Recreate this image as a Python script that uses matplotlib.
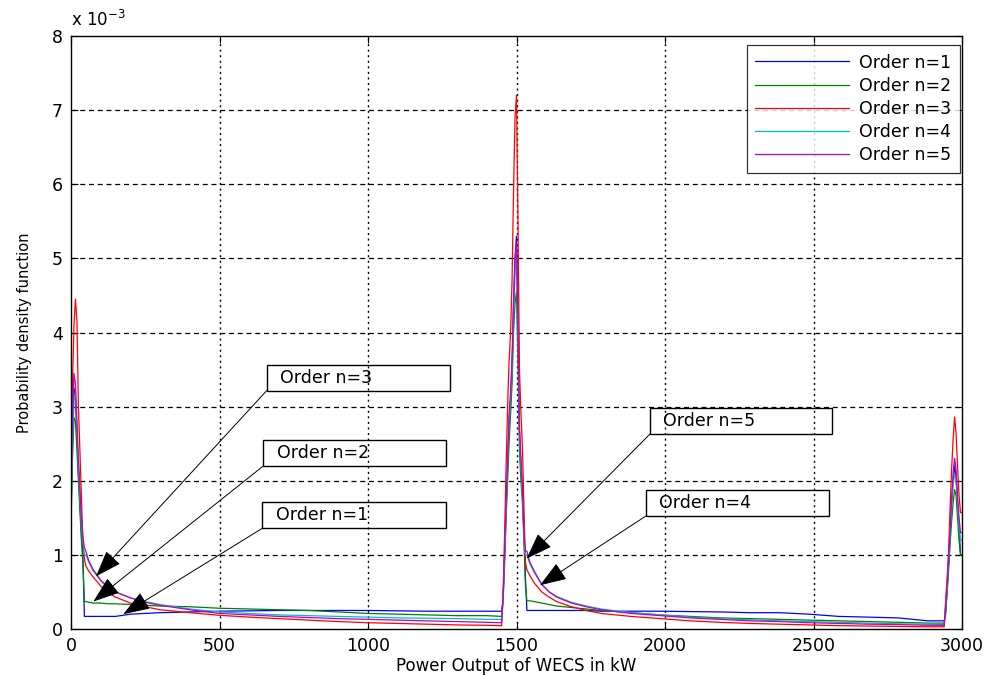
import numpy as np
import matplotlib
matplotlib.use("Agg")
import matplotlib.pyplot as plt
from matplotlib.patches import Rectangle

# ---------------- data (pdf values in units of 1e-3) ----------------
x_kw = [0, 5, 10, 15, 20, 25, 30, 35, 40, 45,
        50, 60, 75, 100, 125, 150, 200, 250, 300, 400, 500, 600, 700, 800, 900, 1000, 1100, 1200, 1300, 1400, 1450,
        1455, 1460, 1465, 1470, 1475, 1480, 1485, 1490, 1495, 1500, 1505, 1510, 1515, 1520, 1525, 1530,
        1535, 1545, 1560, 1585, 1610, 1635, 1685, 1735, 1785, 1885, 1985, 2085, 2185, 2285, 2385, 2485, 2585, 2685, 2785, 2885, 2940,
        2945, 2950, 2955, 2960, 2965, 2970, 2975, 2980, 2985, 2990, 2995, 3000]

pdf_n1 = [1.5, 2.6, 3.25, 3.1, 2.6, 2.1, 1.7, 1.3, 1.0, 0.17,
          0.17, 0.17, 0.17, 0.17, 0.17, 0.17, 0.20, 0.21, 0.22, 0.23, 0.24, 0.245, 0.25, 0.25, 0.25, 0.25, 0.245, 0.24, 0.24, 0.24, 0.24,
          0.4, 1.0, 1.6, 2.2, 2.8, 3.1, 3.6, 4.4, 5.0, 5.3, 4.2, 2.7, 2.2, 1.9, 1.3, 0.7,
          0.25, 0.25, 0.25, 0.25, 0.25, 0.25, 0.25, 0.25, 0.24, 0.24, 0.24, 0.235, 0.23, 0.22, 0.22, 0.20, 0.17, 0.16, 0.15, 0.11, 0.11,
          0.2, 0.55, 0.9, 1.3, 1.7, 2.0, 2.2, 2.05, 1.7, 1.4, 1.0, 1.0]

pdf_n2 = [1.4, 2.3, 2.85, 2.8, 2.4, 2.0, 1.6, 1.2, 0.9, 0.37,
          0.37, 0.36, 0.35, 0.35, 0.34, 0.34, 0.33, 0.32, 0.31, 0.30, 0.28, 0.27, 0.26, 0.25, 0.23, 0.21, 0.20, 0.19, 0.18, 0.18, 0.17,
          0.4, 0.9, 1.5, 2.0, 2.5, 2.9, 3.3, 4.0, 4.4, 4.55, 3.6, 2.4, 2.0, 1.7, 1.2, 0.6,
          0.38, 0.38, 0.37, 0.35, 0.33, 0.31, 0.29, 0.27, 0.25, 0.22, 0.19, 0.17, 0.15, 0.14, 0.13, 0.12, 0.11, 0.10, 0.09, 0.08, 0.08,
          0.25, 0.5, 0.8, 1.15, 1.45, 1.7, 1.88, 1.8, 1.5, 1.2, 1.0, 1.0]

pdf_n3 = [1.6, 3.3, 4.1, 4.45, 4.15, 3.0, 2.4, 1.8, 1.15, 0.95,
          0.85, 0.78, 0.70, 0.58, 0.49, 0.43, 0.35, 0.30, 0.26, 0.22, 0.185, 0.16, 0.14, 0.12, 0.10, 0.085, 0.075, 0.065, 0.055, 0.05, 0.045,
          0.5, 1.3, 2.2, 3.0, 3.6, 4.0, 4.7, 5.9, 6.9, 7.2, 5.5, 3.5, 2.9, 2.45, 1.65, 0.9,
          0.80, 0.72, 0.62, 0.50, 0.43, 0.37, 0.30, 0.25, 0.21, 0.17, 0.14, 0.11, 0.09, 0.075, 0.065, 0.055, 0.045, 0.04, 0.035, 0.03, 0.03,
          0.4, 0.7, 1.07, 1.65, 2.15, 2.55, 2.86, 2.64, 2.2, 1.8, 1.57, 1.57]

pdf_n4 = [1.5, 2.5, 3.1, 3.2, 2.7, 2.2, 1.8, 1.4, 1.2, 1.0,
          1.0, 0.90, 0.78, 0.65, 0.56, 0.50, 0.42, 0.37, 0.33, 0.27, 0.23, 0.21, 0.19, 0.18, 0.17, 0.16, 0.15, 0.145, 0.14, 0.13, 0.13,
          0.4, 1.0, 1.6, 2.2, 2.8, 3.1, 3.5, 4.2, 4.8, 5.0, 4.0, 2.6, 2.2, 1.8, 1.25, 1.0,
          1.0, 0.88, 0.76, 0.60, 0.50, 0.44, 0.36, 0.31, 0.27, 0.22, 0.19, 0.16, 0.14, 0.125, 0.11, 0.10, 0.09, 0.08, 0.07, 0.065, 0.06,
          0.3, 0.55, 0.9, 1.3, 1.65, 1.95, 2.1, 2.0, 1.7, 1.4, 1.2, 1.2]

pdf_n5 = [1.7, 2.8, 3.45, 3.3, 2.8, 2.3, 1.9, 1.5, 1.25, 1.1,
          1.05, 0.92, 0.80, 0.66, 0.56, 0.50, 0.42, 0.36, 0.32, 0.26, 0.21, 0.19, 0.17, 0.155, 0.14, 0.13, 0.12, 0.11, 0.10, 0.09, 0.085,
          0.45, 1.05, 1.7, 2.3, 2.9, 3.2, 3.6, 4.4, 5.0, 5.2, 4.1, 2.7, 2.3, 1.9, 1.3, 1.05,
          1.05, 0.90, 0.78, 0.60, 0.50, 0.43, 0.35, 0.30, 0.26, 0.21, 0.18, 0.15, 0.13, 0.11, 0.10, 0.085, 0.075, 0.065, 0.06, 0.05, 0.05,
          0.3, 0.6, 0.95, 1.35, 1.75, 2.1, 2.3, 2.15, 1.8, 1.5, 1.3, 1.3]

series_labels = ["Order n=1", "Order n=2", "Order n=3", "Order n=4", "Order n=5"]
series_colors = ["#0000ff", "#008000", "#ff0000", "#00bfbf", "#bf00bf"]

# annotation labels, arrow tips (data: kW, 1e-3) and box positions (axes fraction)
ann_labels = ["Order n=3", "Order n=2", "Order n=1", "Order n=5", "Order n=4"]
ann_tip_x = [84, 75, 176, 1534, 1579]
ann_tip_y = [0.71, 0.37, 0.20, 0.95, 0.59]
ann_box_x0 = [0.2196, 0.2158, 0.2147, 0.6498, 0.6453]
ann_box_y0 = [0.4019, 0.2749, 0.1698, 0.3288, 0.1906]
ann_box_w = [0.2058, 0.2051, 0.2062, 0.2043, 0.2054]
ann_box_h = 0.044

x_ticks = [0, 500, 1000, 1500, 2000, 2500, 3000]
y_ticks = [0, 1, 2, 3, 4, 5, 6, 7, 8]

# ---------------- plot ----------------
plt.rcParams['font.family'] = ['DejaVu Sans']
fig = plt.figure(figsize=(9.91, 6.76), dpi=100)
ax = fig.add_axes([71 / 991, 1 - 629 / 676, 891 / 991, 593 / 676])

ys = [pdf_n1, pdf_n2, pdf_n3, pdf_n4, pdf_n5]
xk = np.array(x_kw, dtype=float)
for y, lab, col in zip(ys, series_labels, series_colors):
    ax.plot(xk, np.array(y) * 1e-3, color=col, lw=0.9, label=lab)

ax.set_xlim(0, 3000)
ax.set_ylim(0, 8e-3)
ax.set_xticks(x_ticks)
ax.set_yticks([v * 1e-3 for v in y_ticks])
ax.set_xticklabels([str(v) for v in x_ticks], fontsize=12.5)
ax.set_yticklabels([str(v) for v in y_ticks], fontsize=12.5)
ax.tick_params(direction='in', top=True, right=True, length=5, width=0.8, colors='black', pad=6)

# grid: horizontal dashed, vertical dotted
for v in y_ticks[1:-1]:
    ax.axhline(v * 1e-3, color='black', lw=0.9, ls=(0, (4, 3)), zorder=0.5)
for v in x_ticks[1:-1]:
    ax.axvline(v, color='black', lw=1.0, ls=(0, (1.5, 2.5)), zorder=0.5)

for s in ax.spines.values():
    s.set_linewidth(1.0)
    s.set_color('black')

ax.text(0.0, 1.01, r"x 10$^{-3}$", transform=ax.transAxes, fontsize=12, ha='left', va='bottom')
ax.set_xlabel("Power Output of WECS in kW", fontsize=12, labelpad=1)
ax.set_ylabel("Probability density function", fontsize=10.5, labelpad=14)

leg = ax.legend(loc='upper right', bbox_to_anchor=(0.998, 0.985), borderaxespad=0,
                fontsize=12.5, handlelength=5.4, handletextpad=0.6, labelspacing=0.3,
                frameon=True, fancybox=False, edgecolor='black', borderpad=0.5)
leg.get_frame().set_linewidth(0.9)

# annotations (text boxes with arrows)
for lab, tx, ty, bx, by, bw in zip(ann_labels, ann_tip_x, ann_tip_y, ann_box_x0, ann_box_y0, ann_box_w):
    ax.add_patch(Rectangle((bx, by), bw, ann_box_h, transform=ax.transAxes, fill=False,
                           edgecolor='black', lw=1.0, zorder=5))
    ax.text(bx + 0.015, by + ann_box_h / 2, lab, transform=ax.transAxes, fontsize=12.5,
            ha='left', va='center', zorder=6)
    ax.annotate("", xy=(tx, ty * 1e-3), xycoords='data', xytext=(bx, by), textcoords='axes fraction',
                arrowprops=dict(arrowstyle='-|>,head_length=1.4,head_width=0.5', color='black',
                                lw=0.7, shrinkA=0, shrinkB=0, mutation_scale=12), zorder=6)

fig.savefig("out.png", dpi=100)
